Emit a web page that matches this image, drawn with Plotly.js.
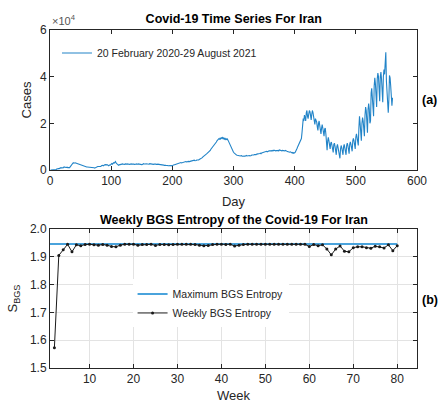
<!DOCTYPE html>
<html>
<head>
<meta charset="utf-8">
<script src="https://cdn.plot.ly/plotly-3.0.1.min.js"></script>
<style>html,body{margin:0;padding:0;background:#fff;}#chart{width:441px;height:403px;}</style>
</head>
<body>
<div id="chart"></div>
<script>
// Daily confirmed cases for Iran, in thousands (day 1 = 20 Feb 2020)
const dailyCasesThousands = [
0.0,0.0,0.0,0.0,0.0,0.0,0.0,0.1,0.1,0.2,
0.4,0.5,0.8,0.6,0.6,0.7,1.1,1.0,0.9,0.9,
1.1,1.0,1.3,1.4,1.2,1.1,1.2,1.2,1.0,1.2,
1.0,1.0,1.4,1.8,2.2,2.4,2.9,3.1,2.9,3.2,
3.1,3.0,2.9,2.7,2.6,2.5,2.3,2.3,2.1,2.0,
2.0,1.8,1.7,1.6,1.5,1.6,1.6,1.5,1.4,1.3,
1.3,1.3,1.2,1.1,1.2,1.1,1.0,1.0,1.0,1.0,
1.1,1.0,0.8,1.0,1.2,1.2,1.3,1.5,1.5,1.5,
1.4,1.7,1.5,1.8,2.1,2.0,1.8,2.2,2.1,2.3,
2.3,2.4,2.3,2.2,2.0,1.8,2.1,2.0,2.2,2.5,
2.8,2.5,3.0,3.1,3.0,3.3,3.6,3.0,2.9,2.5,
2.3,2.0,2.2,2.3,2.4,2.5,2.6,2.5,2.6,2.5,
2.3,2.4,2.6,2.5,2.6,2.5,2.6,2.4,2.5,2.4,
2.6,2.5,2.6,2.5,2.6,2.4,2.5,2.4,2.3,2.5,
2.6,2.4,2.5,2.6,2.5,2.4,2.3,2.2,2.2,2.3,
2.4,2.6,2.7,2.6,2.5,2.6,2.7,2.6,2.5,2.7,
2.6,2.5,2.7,2.6,2.7,2.5,2.6,2.5,2.4,2.5,
2.6,2.7,2.5,2.4,2.5,2.6,2.5,2.4,2.4,2.2,
2.3,2.2,2.2,2.1,2.2,2.1,2.0,2.1,2.0,1.9,
2.0,1.9,1.8,1.9,1.9,2.0,1.9,1.8,1.8,1.7,
2.0,2.1,2.1,2.2,2.4,2.5,2.6,2.7,2.6,2.8,
3.0,3.0,3.1,3.2,3.0,3.1,3.4,3.3,3.5,3.4,
3.5,3.6,3.5,3.4,3.6,3.7,3.5,3.6,3.7,3.8,
3.9,4.0,3.8,3.9,4.1,4.2,4.0,3.9,4.1,4.3,
4.2,4.4,4.3,4.5,4.6,4.8,5.0,5.1,5.3,5.6,
5.9,6.0,6.3,6.4,6.7,6.9,7.1,7.4,7.7,8.0,
8.2,8.4,8.9,9.2,9.5,9.9,10.2,10.6,11.0,11.4,
11.7,12.0,12.5,12.9,13.1,13.4,13.2,13.6,13.3,13.8,
13.6,13.9,13.4,13.7,13.2,13.6,13.1,13.5,12.9,13.3,
12.8,12.2,11.5,10.8,10.1,9.5,9.0,8.4,8.0,7.6,
7.3,7.0,6.8,6.6,6.4,6.3,6.2,6.1,6.0,6.2,
6.0,6.1,6.2,5.9,6.0,6.1,6.2,6.0,5.9,6.1,
6.2,6.0,6.1,6.3,6.1,6.2,6.0,6.3,6.2,6.4,
6.3,6.5,6.4,6.6,6.5,6.7,6.6,6.8,6.7,6.9,
7.0,6.9,7.1,7.2,7.0,7.3,7.4,7.6,7.5,7.7,
7.8,7.7,7.9,8.0,7.8,8.1,8.0,8.2,8.1,8.0,
8.2,8.3,8.1,8.4,8.2,8.5,8.3,8.4,8.2,8.3,
8.5,8.3,8.4,8.2,8.6,8.4,8.5,8.3,8.2,8.4,
8.3,8.5,8.1,8.2,8.4,8.0,8.1,7.9,7.8,8.0,
7.7,7.6,7.8,7.5,7.4,7.3,7.5,7.2,7.4,7.3,
7.6,8.0,8.6,9.3,10.0,10.6,11.3,11.8,12.2,12.7,
13.5,16.0,19.5,22.0,21.0,23.5,22.5,21.0,24.5,25.5,
23.0,22.0,24.0,25.5,25.0,23.5,21.5,24.0,25.5,24.5,
22.5,20.0,19.5,22.0,21.5,20.5,18.5,17.0,20.0,21.0,
19.0,17.5,15.5,18.0,19.5,18.0,16.0,14.5,17.5,18.0,
15.5,13.0,8.5,12.5,14.0,12.5,10.0,9.0,11.5,12.0,
10.5,8.0,7.5,11.0,11.5,10.0,8.5,6.5,10.0,11.0,
9.5,7.5,6.0,5.0,9.0,10.5,9.5,7.0,6.5,10.0,
11.0,9.5,8.0,6.5,10.5,11.5,10.5,8.5,7.0,11.0,
12.0,11.0,8.5,8.0,12.5,13.5,12.5,10.0,9.0,14.0,
15.5,14.0,11.5,10.5,18.0,23.0,20.0,14.0,12.5,20.0,
22.5,21.0,16.0,14.5,23.5,27.0,25.5,18.0,16.0,26.0,
28.5,26.0,20.0,21.0,33.0,35.0,31.0,24.5,23.0,36.0,
39.5,37.0,30.0,27.0,39.0,41.5,40.0,33.5,29.5,40.0,
42.0,39.0,31.0,29.0,40.0,43.0,41.0,45.0,50.5,38.0,
33.0,28.0,24.5,30.0,40.5,39.5,36.0,32.0,27.5,31.0
];

// Weekly BGS entropy, weeks 2..80
const firstWeek = 2;
const weeklyEntropy = [
1.573,1.905,1.925,1.945,1.918,1.943,1.940,1.944,1.945,
1.943,1.942,1.944,1.942,1.937,1.936,1.942,1.945,1.945,1.945,
1.942,1.944,1.944,1.945,1.941,1.944,1.944,1.943,1.944,1.945,
1.945,1.945,1.945,1.944,1.942,1.940,1.941,1.944,1.945,1.945,
1.944,1.945,1.939,1.942,1.944,1.945,1.945,1.945,1.945,1.945,
1.945,1.945,1.945,1.945,1.945,1.945,1.945,1.945,1.945,1.937,
1.944,1.940,1.943,1.928,1.907,1.928,1.939,1.920,1.918,1.933,
1.936,1.936,1.933,1.931,1.938,1.936,1.932,1.943,1.922,1.940
];
const maxEntropy = 1.9459; // ln(7)
const maxEntropyWeeks = [1, 80];

const caseTickVals = [0, 20, 40, 60];
const caseTickText = ['0', '2', '4', '6'];
const dayTicks = [0, 100, 200, 300, 400, 500, 600];
const weekTicks = [10, 20, 30, 40, 50, 60, 70, 80];
const entropyTicks = [1.5, 1.6, 1.7, 1.8, 1.9, 2];

const days = dailyCasesThousands.map((_, i) => i + 1);
const weeks = weeklyEntropy.map((_, i) => i + firstWeek);

const FONT = 'Liberation Sans, Arial, Helvetica, sans-serif';
const AX = '#262626';

const traces = [
  {x: days, y: dailyCasesThousands, xaxis: 'x', yaxis: 'y', type: 'scatter', mode: 'lines',
   name: '20 February 2020-29 August 2021', line: {color: '#2284c8', width: 1.1}, legend: 'legend'},
  {x: maxEntropyWeeks, y: [maxEntropy, maxEntropy], xaxis: 'x2', yaxis: 'y2', type: 'scatter', mode: 'lines',
   name: 'Maximum BGS Entropy', line: {color: '#4aa3dc', width: 2}, legend: 'legend2'},
  {x: weeks, y: weeklyEntropy, xaxis: 'x2', yaxis: 'y2', type: 'scatter', mode: 'lines+markers',
   name: 'Weekly BGS Entropy', line: {color: '#1a1a1a', width: 1}, marker: {size: 3, color: '#1a1a1a'}, legend: 'legend2'}
];

const axisCommon = {
  showline: true, linecolor: AX, linewidth: 1, mirror: 'ticks', ticks: 'inside', ticklen: 4,
  tickcolor: AX, tickfont: {family: FONT, size: 12, color: AX}, zeroline: false
};
const titleFont = {family: FONT, size: 13, color: AX};

const layout = {
  width: 441, height: 403,
  margin: {l: 50, r: 24, t: 30, b: 35},
  paper_bgcolor: '#fff', plot_bgcolor: '#fff',
  font: {family: FONT, color: AX},
  showlegend: true,
  title: {text: '<b>Covid-19 Time Series For Iran</b>', font: {family: FONT, size: 12.5, color: '#000'},
          x: 0.53, xanchor: 'center', y: 0.953, yanchor: 'middle'},
  xaxis: Object.assign({}, axisCommon, {domain: [0, 1], anchor: 'y', range: [0, 600], tickvals: dayTicks,
          showgrid: false, title: {text: 'Day', font: titleFont, standoff: 9}}),
  yaxis: Object.assign({}, axisCommon, {domain: [0.5858, 1], anchor: 'x', range: [0, 60], tickvals: caseTickVals,
          ticktext: caseTickText, showgrid: false, title: {text: 'Cases', font: titleFont, standoff: 5}}),
  xaxis2: Object.assign({}, axisCommon, {domain: [0, 1], anchor: 'y2', range: [1, 84.5], tickvals: weekTicks,
          showgrid: true, gridcolor: '#e3e3e3', title: {text: 'Week', font: titleFont, standoff: 9}}),
  yaxis2: Object.assign({}, axisCommon, {domain: [0, 0.4112], anchor: 'x2', range: [1.5, 2], tickvals: entropyTicks,
          tickformat: '.1f', showgrid: true, gridcolor: '#e3e3e3',
          title: {text: 'S<sub>BGS</sub>', font: titleFont, standoff: 9}}),
  legend: {x: 0.019, y: 0.975, xanchor: 'left', yanchor: 'top', bgcolor: 'rgba(255,255,255,1)', borderwidth: 0,
           font: {family: FONT, size: 10.5, color: AX}, tracegroupgap: 0},
  legend2: {x: 0.225, y: 0.262, xanchor: 'left', yanchor: 'top', bgcolor: 'rgba(255,255,255,1)', borderwidth: 0,
           font: {family: FONT, size: 10.5, color: AX}, tracegroupgap: 0},
  annotations: [
    {text: '<b>Weekly BGS Entropy of the Covid-19 For Iran</b>', xref: 'paper', yref: 'paper', x: 0.5, y: 0.439,
     xanchor: 'center', yanchor: 'middle', showarrow: false, font: {family: FONT, size: 12.5, color: '#000'}},
    {text: '×10<sup>4</sup>', xref: 'paper', yref: 'paper', x: 0, y: 1.003, xanchor: 'left', yanchor: 'bottom',
     showarrow: false, font: {family: FONT, size: 11, color: '#555'}},
    {text: '<b>(a)</b>', xref: 'paper', yref: 'paper', x: 1.035, y: 1 - (100 - 30) / 338, xanchor: 'center', yanchor: 'middle',
     showarrow: false, font: {family: FONT, size: 12.5, color: '#000'}},
    {text: '<b>(b)</b>', xref: 'paper', yref: 'paper', x: 1.035, y: 1 - (300 - 30) / 338, xanchor: 'center', yanchor: 'middle',
     showarrow: false, font: {family: FONT, size: 12.5, color: '#000'}}
  ]
};

Plotly.newPlot('chart', traces, layout, {displayModeBar: false, staticPlot: true});
</script>
</body>
</html>
